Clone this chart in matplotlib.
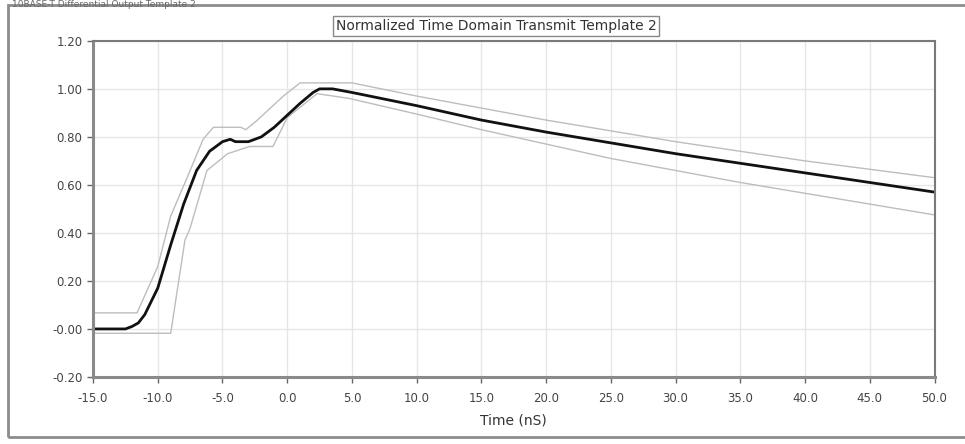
import numpy as np
import matplotlib
matplotlib.use('Agg')
import matplotlib.pyplot as plt
from matplotlib.patches import Rectangle

# template (measured waveform)
t_meas = [-15.0, -12.5, -12.0, -11.5, -11.0, -10.0, -9.0, -8.0, -7.0, -6.0, -5.0, -4.4, -4.0,
          -3.0, -2.0, -1.0, 0.0, 1.0, 2.0, 2.5, 3.5, 5.0, 10.0, 15.0, 20.0, 25.0,
          30.0, 35.0, 40.0, 45.0, 50.0]
v_meas = [0.0, 0.0, 0.01, 0.025, 0.06, 0.17, 0.35, 0.52, 0.66, 0.74, 0.78, 0.79, 0.78,
          0.78, 0.80, 0.84, 0.89, 0.94, 0.985, 1.0, 1.0, 0.985, 0.93, 0.87, 0.82, 0.775,
          0.73, 0.69, 0.65, 0.61, 0.57]

# upper limit
t_upper = [-15.0, -11.6, -10.0, -9.0, -7.5, -6.5, -5.7, -3.6, -3.2, -2.3, -0.3, 1.0,
           5.0, 10.0, 15.0, 20.0, 25.0, 30.0, 35.0, 40.0, 45.0, 50.0]
v_upper = [0.067, 0.067, 0.26, 0.47, 0.66, 0.79, 0.84, 0.84, 0.83, 0.87, 0.97, 1.025,
           1.025, 0.97, 0.92, 0.87, 0.825, 0.78, 0.74, 0.70, 0.665, 0.63]

# lower limit
t_lower = [-15.0, -9.0, -7.9, -7.5, -6.2, -4.6, -2.9, -1.1, 0.0, 2.3, 4.8,
           10.0, 15.0, 20.0, 25.0, 30.0, 35.0, 40.0, 45.0, 50.0]
v_lower = [-0.018, -0.018, 0.37, 0.42, 0.66, 0.73, 0.76, 0.76, 0.88, 0.98, 0.96,
           0.895, 0.83, 0.77, 0.71, 0.66, 0.61, 0.565, 0.52, 0.475]

x_ticks = [-15, -10, -5, 0, 5, 10, 15, 20, 25, 30, 35, 40, 45, 50]
y_ticks = [-0.2, 0.0, 0.2, 0.4, 0.6, 0.8, 1.0, 1.2]
y_labels = ['-0.20', '-0.00', '0.20', '0.40', '0.60', '0.80', '1.00', '1.20']

fig = plt.figure(figsize=(9.65, 4.44), dpi=100)
ax = fig.add_axes([0.0964, 0.151, 0.872, 0.757])

# outer frame of the panel
fig.patches.append(Rectangle((8 / 965, 7 / 444), 1.0, 432 / 444, transform=fig.transFigure,
                             fill=False, edgecolor='#8c8c8c', linewidth=2, clip_on=False))
fig.text(0.012, 0.999, '10BASE-T Differential Output Template 2', fontsize=6.5,
         color='#666666', va='top', ha='left')

ax.plot(t_upper, v_upper, color='#bdbdbd', linewidth=1)
ax.plot(t_lower, v_lower, color='#bdbdbd', linewidth=1)
ax.plot(t_meas, v_meas, color='#111111', linewidth=2)

ax.set_xlim(-15, 50)
ax.set_ylim(-0.2, 1.2)
ax.set_xticks(x_ticks)
ax.set_xticklabels([f'{x:.1f}' for x in x_ticks])
ax.set_yticks(y_ticks)
ax.set_yticklabels(y_labels)
ax.grid(True, color='#e6e6e6', linewidth=1)
ax.set_axisbelow(True)
ax.tick_params(direction='out', length=4, width=1, color='#666666',
               labelsize=8.5, labelcolor='#444444')
ax.tick_params(axis='x', pad=7)
for side in ['left', 'bottom']:
    ax.spines[side].set_color('#8a8a8a')
    ax.spines[side].set_linewidth(2.2)
for side in ['top', 'right']:
    ax.spines[side].set_color('#7a7a7a')
    ax.spines[side].set_linewidth(1.5)

ax.set_xlabel('Time (nS)', fontsize=10, color='#333333', labelpad=6)

fig.text(496 / 965, 1 - 26 / 444, 'Normalized Time Domain Transmit Template 2',
         ha='center', va='center', fontsize=10, color='#333333',
         bbox=dict(boxstyle='square,pad=0.2', facecolor='white', edgecolor='#888888', linewidth=1))

fig.savefig('out.png', dpi=100)
